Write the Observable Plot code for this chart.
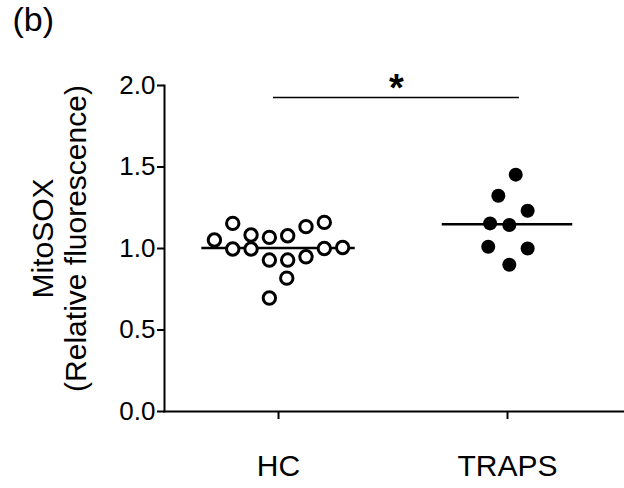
<!DOCTYPE html>
<html>
<head>
<meta charset="utf-8">
<script src="https://cdn.jsdelivr.net/npm/d3@7"></script>
<script src="https://cdn.jsdelivr.net/npm/@observablehq/plot@0.6"></script>
<style>
  html, body { margin: 0; padding: 0; background: #fff; }
</style>
</head>
<body>
<div id="wrap"></div>
<script>
// ---- data ----
const panelLabel = "(b)";
const categories = ["HC", "TRAPS"];
const hcValues   = [1.052, 1.154, 0.997, 1.083, 0.997, 1.068, 0.929, 0.696, 1.078, 0.929, 0.818, 1.134, 0.949, 1.160, 1.000, 1.006];
const hcSpread   = [-3.5, -2.5, -2.5, -1.5, -1.5, -0.5, -0.5, -0.5, 0.5, 0.5, 0.45, 1.5, 1.5, 2.5, 2.5, 3.5];
const trapsValues = [1.453, 1.324, 1.232, 1.154, 1.144, 1.011, 1.000, 0.900];
const trapsSpread = [0.45, -0.5, 1.1, -0.95, 0.1, -1.05, 1.1, 0.1];
const yTicks = [0, 0.5, 1.0, 1.5, 2.0];
const yLabel = ["MitoSOX", "(Relative fluorescence)"];
const significance = [{from: "HC", to: "TRAPS", y: 1.926, label: "*"}];

// ---- build ----
const pos = c => categories.indexOf(c) + 1;
const step = 0.08; // column spacing in category units
const pts = [
  ...hcValues.map((v, i) => ({group: "HC", x: pos("HC") + hcSpread[i] * step, y: v})),
  ...trapsValues.map((v, i) => ({group: "TRAPS", x: pos("TRAPS") + trapsSpread[i] * step, y: v}))
];
const halfW = {HC: 0.335, TRAPS: 0.285};
const medians = categories.map(c => {
  const vals = pts.filter(d => d.group === c).map(d => d.y);
  return {group: c, y: d3.median(vals), x1: pos(c) - halfW[c], x2: pos(c) + halfW[c]};
});
const sig = significance.map(s => {
  const x1 = pos(s.from) - 0.022, x2 = pos(s.to) + 0.052;
  return {...s, x1, x2, xm: (x1 + x2) / 2};
});

const chart = Plot.plot({
  width: 624,
  height: 488,
  marginLeft: 164,
  marginRight: 0,
  marginTop: 85,
  marginBottom: 77,
  style: {fontFamily: "Liberation Sans, Arial, sans-serif", color: "#000", background: "#fff"},
  x: {type: "linear", domain: [0.502, 2.511], axis: null},
  y: {domain: [0, 2], axis: null},
  marks: [
    Plot.axisY({ticks: yTicks, tickFormat: d3.format(".1f"), tickSize: 7, tickPadding: 2, fontSize: 26, strokeWidth: 2, label: null}),
    Plot.axisX({ticks: categories.map(pos), tickFormat: d => categories[d - 1], tickSize: 8, tickPadding: 35, fontSize: 30, strokeWidth: 2, label: null}),
    Plot.frame({anchor: "left", strokeWidth: 2}),
    Plot.frame({anchor: "bottom", strokeWidth: 2}),
    Plot.text([yLabel[0]], {frameAnchor: "left", textAnchor: "middle", rotate: -90, dx: -121, dy: -10, fontSize: 30}),
    Plot.text([yLabel[1]], {frameAnchor: "left", textAnchor: "middle", rotate: -90, dx: -88, dy: -10, fontSize: 30}),
    Plot.text([panelLabel], {frameAnchor: "top-left", textAnchor: "start", lineAnchor: "top", dx: -152, dy: -79, fontSize: 34}),
    Plot.ruleY(medians, {y: "y", x1: "x1", x2: "x2", stroke: "black", strokeWidth: 2.5}),
    Plot.dot(pts.filter(d => d.group === "HC"), {x: "x", y: "y", r: 6.2, stroke: "black", strokeWidth: 3, fill: "white"}),
    Plot.dot(pts.filter(d => d.group === "TRAPS"), {x: "x", y: "y", r: 7, fill: "black", stroke: "none"}),
    Plot.ruleY(sig, {y: "y", x1: "x1", x2: "x2", stroke: "black", strokeWidth: 1.5}),
    Plot.text(sig, {x: "xm", y: "y", text: "label", fontSize: 38, fontWeight: "bold", lineAnchor: "middle", dy: -9})
  ]
});
document.getElementById("wrap").appendChild(chart);
</script>
</body>
</html>
